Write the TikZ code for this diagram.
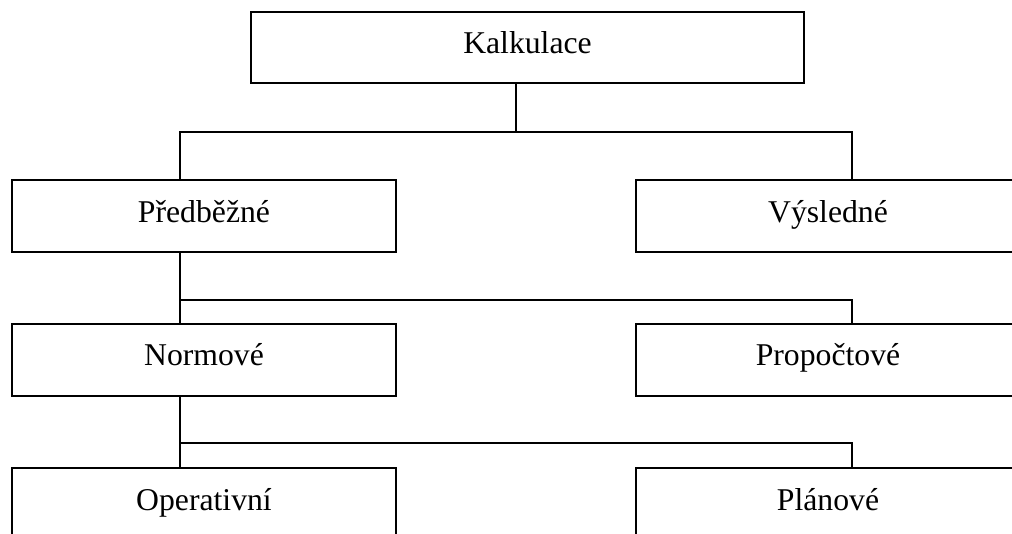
\documentclass[tikz,border=0pt]{standalone}
\usepackage{fontspec}
\setmainfont{Liberation Serif}
\usepackage{tikz}
\tikzstyle{box}=[draw, line width=2pt, minimum width=384pt, minimum height=72pt, inner sep=0pt, text height=20pt, text depth=8pt, font=\fontsize{31.7}{36}\selectfont]
\tikzstyle{link}=[line width=2pt]
\tikzstyle{chart}=[x=1pt, y=-1pt]

\begin{document}
\begin{tikzpicture}[chart]
	\useasboundingbox (0,0) rectangle (1012,533);
	\clip (0,0) rectangle (1012,533);
	\node[box, minimum width=553pt, minimum height=71pt] (kalk) at (527.5,47.5) {Kalkulace};
	\node[box] (pred) at (204,216) {Předběžné};
	\node[box] (vysl) at (828,216) {Výsledné};
	\node[box] (norm) at (204,359.5) {Normové};
	\node[box] (prop) at (828,359.5) {Propočtové};
	\node[box] (oper) at (204,504) {Operativní};
	\node[box] (plan) at (828,504) {Plánové};
	\coordinate (j1) at (180,132);
	\coordinate (j2) at (180,300);
	\coordinate (j3) at (180,443);
	\draw[link] ([xshift=-11.5]kalk.south) |- (j1) -- ([xshift=-24]pred.north);
	\draw[link] (j1) -| ([xshift=24]vysl.north);
	\draw[link] ([xshift=-24]pred.south) -- ([xshift=-24]norm.north);
	\draw[link] (j2) -| ([xshift=24]prop.north);
	\draw[link] ([xshift=-24]norm.south) -- ([xshift=-24]oper.north);
	\draw[link] (j3) -| ([xshift=24]plan.north);
\end{tikzpicture}
\end{document}
